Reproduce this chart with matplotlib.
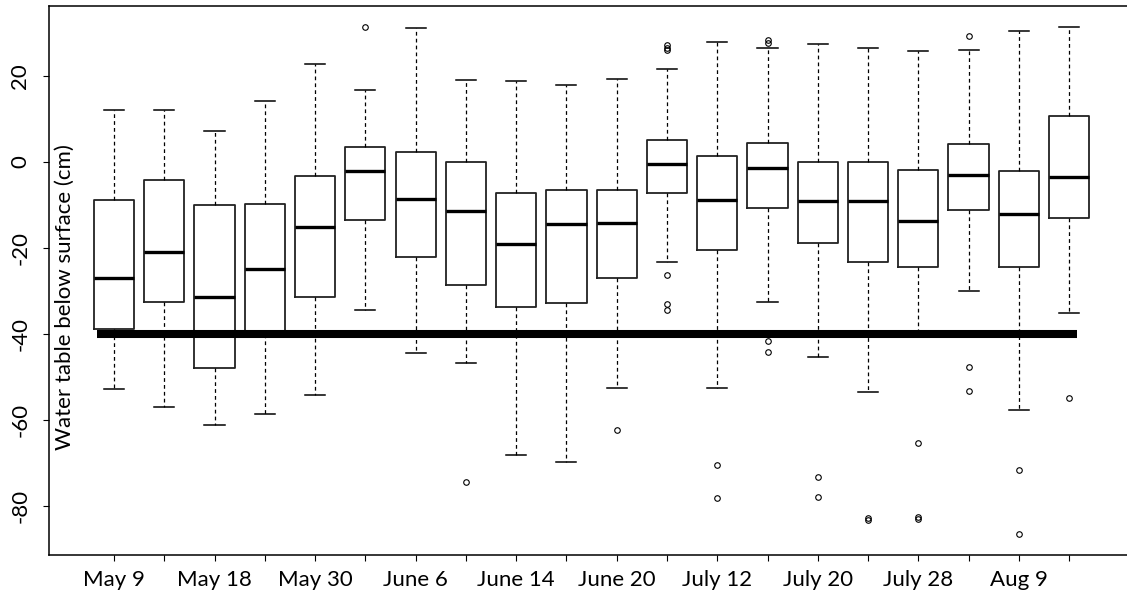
import matplotlib
matplotlib.use("Agg")
import matplotlib.pyplot as plt

plt.rcParams['font.family'] = ['Lato', 'DejaVu Sans']

# Sampling dates (labels shown on every other box)
dates = ["May 9", "", "May 18", "", "May 30", "", "June 6", "", "June 14", "",
         "June 20", "", "July 12", "", "July 20", "", "July 28", "", "Aug 9", ""]

# Box statistics: water table depth (cm) per sampling date
medians = [-27.1, -21.1, -31.5, -25.0, -15.1, -2.2, -8.7, -11.4, -19.1, -14.6,
           -14.3, -0.6, -9.0, -1.5, -9.2, -9.2, -13.8, -3.0, -12.2, -3.6]
q1 = [-39.0, -32.7, -48.1, -40.0, -31.5, -13.6, -22.2, -28.7, -33.7, -32.9,
      -27.1, -7.2, -20.5, -10.8, -19.0, -23.3, -24.6, -11.2, -24.6, -13.2]
q3 = [-8.9, -4.3, -10.2, -9.9, -3.3, 3.3, 2.3, -0.1, -7.4, -6.7,
      -6.7, 5.0, 1.4, 4.3, -0.1, -0.1, -1.9, 4.0, -2.2, 10.5]
whisker_low = [-52.9, -57.0, -61.2, -58.6, -54.3, -34.5, -44.4, -46.8, -68.2, -69.8,
               -52.7, -23.3, -52.7, -32.6, -45.5, -53.5, -40.0, -30.2, -57.7, -35.3]
whisker_high = [12.0, 12.0, 7.1, 14.2, 22.8, 16.7, 31.0, 19.0, 18.8, 17.8,
                19.2, 21.6, 27.8, 26.5, 27.4, 26.5, 25.7, 26.0, 30.5, 31.4]
outliers = [[], [], [], [], [], [31.3], [], [-74.6], [], [],
            [-62.4], [27.1, 26.4, 25.9, -26.4, -33.1, -34.6], [-70.5, -78.3],
            [28.3, 27.5, -41.7, -44.2], [-73.4, -78.0], [-83.0, -83.3],
            [-65.4, -82.7, -83.2], [29.3, -47.8, -53.4], [-71.7, -86.6], [-54.9]]

# Reference water table level
threshold = -40.0
threshold_span = (0.656, 20.166)

stats = []
for i in range(len(medians)):
    stats.append(dict(med=medians[i], q1=q1[i], q3=q3[i],
                      whislo=whisker_low[i], whishi=whisker_high[i],
                      fliers=outliers[i]))

fig = plt.figure(figsize=(11.27, 5.97), dpi=100)
ax = fig.add_axes([49 / 1127, 42 / 597, (1140 - 49) / 1127, (555 - 6) / 597])

positions = list(range(1, len(stats) + 1))
ax.bxp(stats, positions=positions, widths=0.8, showfliers=True,
       boxprops=dict(color="#222222", linewidth=1.3),
       medianprops=dict(color="black", linewidth=2.4, solid_capstyle="butt"),
       whiskerprops=dict(color="black", linewidth=0.9, linestyle=(0, (3, 2.5))),
       capprops=dict(color="black", linewidth=1.1),
       capwidths=0.4,
       flierprops=dict(marker="o", markersize=4, markerfacecolor="none",
                       markeredgecolor="black", markeredgewidth=0.8))

ax.plot(threshold_span, [threshold, threshold], color="black", linewidth=5.8,
        solid_capstyle="butt", zorder=5)

ax.set_xlim(-0.293, 21.41)
ax.set_ylim(-91.5, 36.2)
ax.set_xticks(positions)
ax.set_xticklabels(dates)
ax.set_yticks([20, 0, -20, -40, -60, -80])
ax.set_yticklabels(["20", "0", "-20", "-40", "-60", "-80"], rotation=90, va="center")

ax.tick_params(axis="both", direction="out", length=4.5, width=0.8, labelsize=16,
               colors="black")
ax.tick_params(axis="x", pad=6)
ax.tick_params(axis="y", pad=9)

ax.spines["right"].set_visible(False)
for side in ("left", "top", "bottom"):
    ax.spines[side].set_linewidth(1.1)
    ax.spines[side].set_color("black")

fig.text(65 / 1127, 1 - 297 / 597, "Water table below surface (cm)", rotation=90,
         ha="center", va="center", fontsize=16, color="black")

fig.savefig("out.png", dpi=100)
